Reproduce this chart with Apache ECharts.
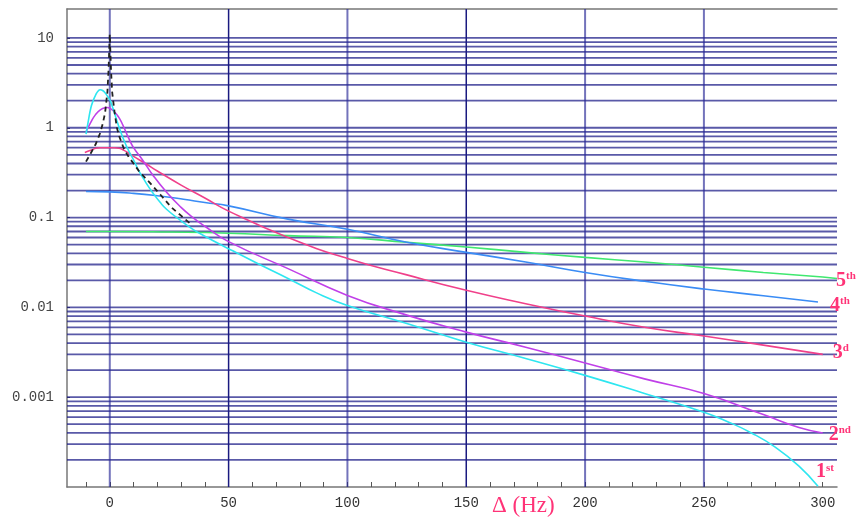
<!DOCTYPE html>
<html><head><meta charset="utf-8">
<script src="https://cdn.jsdelivr.net/npm/echarts@6/dist/echarts.min.js"></script>
<style>html,body{margin:0;padding:0;background:#fff}#c{width:861px;height:519px}</style>
</head><body><div id="c"></div>
<script>
// ---- tick labels / axes ----
const xTickLabels = [0, 50, 100, 150, 200, 250, 300];
const xMinorTicks = [-10, 0, 10, 20, 30, 40, 50, 60, 70, 80, 90, 100, 110, 120, 130, 140, 150, 160, 170, 180, 190, 200, 210, 220, 230, 240, 250, 260, 270, 280, 290, 300];
const xGridLines = [0, 50, 100, 150, 200, 250];
const yTickLabels = [0.001, 0.01, 0.1, 1, 10];
const yDecades = [0.0001, 0.001, 0.01, 0.1, 1, 10];
const yMultipliers = [1, 2, 3, 4, 5, 6, 7, 8, 9];

// ---- series data (Δ in Hz, value) ----
const x1st = [-10, -9, -8, -7, -6, -5, -4, -3, -2, -1, 0, 1, 2, 3, 4, 6, 8, 10, 12, 15, 18, 21, 24, 30, 35, 40, 50, 62, 75, 87, 100, 125, 150, 175, 200, 225, 250, 260, 270, 280, 290, 298];
const y1st = [0.85, 1.2, 1.65, 2.0, 2.3, 2.55, 2.65, 2.6, 2.45, 2.25, 2.05, 1.75, 1.45, 1.2, 1.0, 0.72, 0.55, 0.44, 0.34, 0.25, 0.19, 0.15, 0.123, 0.092, 0.074, 0.062, 0.045, 0.031, 0.021, 0.0145, 0.0105, 0.0066, 0.0041, 0.0027, 0.00175, 0.0011, 0.00068, 0.000534, 0.0004, 0.000278, 0.000171, 0.000102];

const x2nd = [-10, -8, -6, -4, -2, -1, 0, 2, 4, 6, 8, 10, 14, 18, 24, 30, 35, 40, 50, 75, 100, 125, 150, 175, 200, 225, 250, 275, 290, 300];
const y2nd = [0.9, 1.15, 1.4, 1.58, 1.67, 1.68, 1.65, 1.5, 1.28, 1.0, 0.76, 0.6, 0.43, 0.3, 0.19, 0.13, 0.1, 0.08, 0.054, 0.027, 0.0136, 0.0082, 0.0053, 0.0036, 0.0024, 0.0016, 0.0011, 0.00064, 0.00046, 0.0004];

const x3d = [-10.5, -8, -6, -4, -2, 0, 2, 4, 6, 8, 10, 15, 20, 30, 40, 50, 75, 100, 125, 150, 175, 200, 225, 250, 275, 300];
const y3d = [0.53, 0.56, 0.59, 0.6, 0.6, 0.6, 0.6, 0.59, 0.56, 0.52, 0.48, 0.4, 0.33, 0.23, 0.165, 0.118, 0.06, 0.035, 0.023, 0.0155, 0.011, 0.008, 0.006, 0.0048, 0.0038, 0.003];

const x4th = [-10, 0, 10, 20, 31, 40, 50, 75, 100, 125, 150, 175, 200, 225, 250, 275, 298];
const y4th = [0.195, 0.193, 0.186, 0.175, 0.16, 0.147, 0.135, 0.096, 0.074, 0.053, 0.041, 0.032, 0.0245, 0.0195, 0.016, 0.0135, 0.0115];

const x5th = [-10, 0, 25, 50, 75, 100, 125, 150, 175, 200, 225, 250, 275, 300, 306];
const y5th = [0.07, 0.07, 0.069, 0.067, 0.063, 0.06, 0.053, 0.047, 0.041, 0.036, 0.032, 0.028, 0.0245, 0.0218, 0.021];

const xRef = [-10, -8, -6, -4, -3, -2, -1, -0.5, 0, 0.5, 1, 2, 3, 4, 6, 8, 10, 12.6, 16.8, 21.7, 25.9, 30, 34];
const yRef = [0.42, 0.52, 0.65, 0.88, 1.1, 1.45, 2.5, 4.5, 11, 4.5, 2.5, 1.5, 1.0, 0.8, 0.58, 0.47, 0.4, 0.32, 0.245, 0.175, 0.13, 0.105, 0.085];

const zip = (xs, ys) => xs.map((x, i) => [x, ys[i]]);

const labelColor = '#ff3377';
function endLbl(num, sup, offset) {
  return {
    show: true, distance: 3, offset: offset,
    formatter: '{n|' + num + '}{s|' + sup + '}',
    rich: {
      n: {fontFamily: 'Liberation Serif', fontSize: 20, color: labelColor, fontWeight: 'bold'},
      s: {fontFamily: 'Liberation Serif', fontSize: 11, color: labelColor, fontWeight: 'bold', padding: [0, 0, 9, 0]}
    }
  };
}

const gridColor = 'rgba(25,25,135,0.72)';
const hValues = [];
yDecades.forEach(d => yMultipliers.forEach(m => {
  const v = +(d * m).toPrecision(6);
  if (v > 0.0001 && v < 15) hValues.push(v);
}));

function curve(name, xs, ys, color, lbl) {
  return {
    name: name, type: 'line', data: zip(xs, ys), showSymbol: false, symbol: 'none',
    smooth: 0.5, z: 5,
    lineStyle: {color: color, width: 1.6},
    endLabel: lbl
  };
}

const chart = echarts.init(document.getElementById('c'), null, {renderer: 'canvas'});
chart.setOption({
  animation: false,
  backgroundColor: '#fff',
  title: {
    text: 'Δ (Hz)', left: 487, top: 489,
    textStyle: {fontFamily: 'Liberation Serif', fontSize: 23, fontWeight: 'normal', color: labelColor}
  },
  grid: {left: 67, right: 24, top: 9, bottom: 32, containLabel: false},
  xAxis: [{
    type: 'value', min: -18, max: 306,
    axisLine: {show: true, onZero: false, lineStyle: {color: '#777', width: 1.5}},
    axisTick: {show: true, inside: true, length: 5, customValues: xMinorTicks, lineStyle: {color: '#555'}},
    axisLabel: {customValues: xTickLabels, margin: 9, color: '#333', fontFamily: 'Liberation Mono', fontSize: 14},
    splitLine: {show: false}
  }, {
    type: 'value', min: -18, max: 306, position: 'top',
    axisLine: {show: true, onZero: false, lineStyle: {color: '#777', width: 1.5}},
    axisTick: {show: false}, axisLabel: {show: false}, splitLine: {show: false}
  }],
  yAxis: {
    type: 'log', logBase: 10, min: 0.0001, max: 21,
    axisLine: {show: true, onZero: false, lineStyle: {color: '#777', width: 1.5}},
    axisTick: {show: true, inside: true, length: 3, customValues: yTickLabels, lineStyle: {color: '#555'}},
    axisLabel: {customValues: yTickLabels, margin: 13, color: '#444', fontFamily: 'Liberation Mono', fontSize: 14,
      formatter: v => String(+v.toPrecision(3))},
    splitLine: {show: false}, minorSplitLine: {show: false}
  },
  series: [
    {
      type: 'custom', silent: true, z: 1, clip: false,
      data: hValues.map(v => [0, v]),
      encode: {x: 0, y: 1},
      renderItem: function (params, api) {
        const cs = params.coordSys;
        const y = api.coord([0, api.value(1)])[1];
        return {type: 'line', shape: {x1: cs.x, y1: y, x2: cs.x + cs.width, y2: y},
          style: {stroke: gridColor, lineWidth: 1.8}};
      }
    },
    {
      type: 'custom', silent: true, z: 2, clip: false,
      data: xGridLines.map(v => [v, 1]),
      encode: {x: 0, y: 1},
      renderItem: function (params, api) {
        const cs = params.coordSys;
        const v = api.value(0);
        const x = api.coord([v, 1])[0];
        const dark = (v === 50 || v === 150);
        return {type: 'line', shape: {x1: x, y1: cs.y, x2: x, y2: cs.y + cs.height},
          style: {stroke: dark ? '#1a1a80' : 'rgba(40,40,150,0.65)', lineWidth: dark ? 1.5 : 2}};
      }
    },
    curve('5th', x5th, y5th, '#40e870', endLbl('5', 'th', [-4, 2])),
    curve('4th', x4th, y4th, '#3a8cf5', endLbl('4', 'th', [9, 4])),
    curve('3d', x3d, y3d, '#f0408a', endLbl('3', 'd', [7, -2])),
    curve('2nd', x2nd, y2nd, '#c040e8', endLbl('2', 'nd', [3, 2])),
    curve('1st', x1st, y1st, '#2ee6f0', endLbl('1', 'st', [-5, -14])),
    {
      name: 'ref', type: 'line', data: zip(xRef, yRef), showSymbol: false, symbol: 'none',
      smooth: false, z: 6,
      lineStyle: {color: '#222', width: 1.8, type: [5, 4]}
    }
  ]
});
</script>
</body></html>
